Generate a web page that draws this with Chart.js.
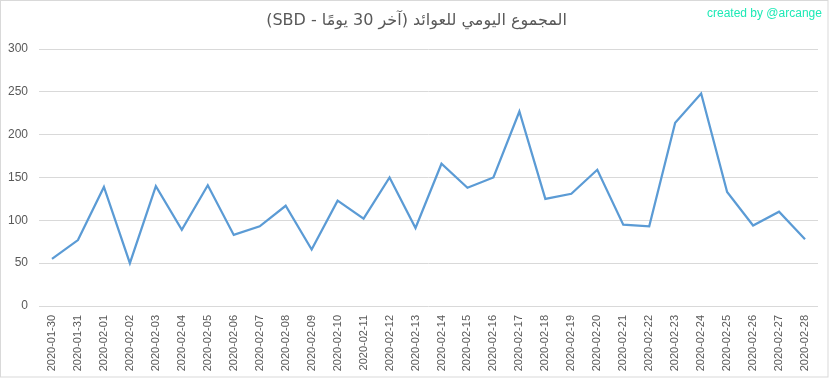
<!DOCTYPE html>
<html>
<head>
<meta charset="utf-8">
<script src="https://cdn.jsdelivr.net/npm/chart.js"></script>
<style>
  html, body { margin: 0; padding: 0; background: #fff; }
  #wrap { position: relative; width: 833px; height: 379px; }
  #credit {
    position: absolute; left: 707px; top: 6px;
    font: 12px "Liberation Sans", Arial, sans-serif; color: #1de9b6;
  }
  #title {
    position: absolute; left: 0; width: 833px; top: 10px; text-align: center;
    font: 16px "DejaVu Sans", sans-serif; color: #595959;
  }
</style>
</head>
<body>
<div id="wrap">
  <canvas id="myChart" width="833" height="379"></canvas>
  <div id="title" dir="rtl">المجموع اليومي للعوائد (آخر 30 يومًا - SBD)</div>
  <div id="credit">created by @arcange</div>
</div>
<script>
// dates shown on the x axis
const days = [
  '2020-01-30', '2020-01-31', '2020-02-01', '2020-02-02', '2020-02-03', '2020-02-04',
  '2020-02-05', '2020-02-06', '2020-02-07', '2020-02-08', '2020-02-09', '2020-02-10',
  '2020-02-11', '2020-02-12', '2020-02-13', '2020-02-14', '2020-02-15', '2020-02-16',
  '2020-02-17', '2020-02-18', '2020-02-19', '2020-02-20', '2020-02-21', '2020-02-22',
  '2020-02-23', '2020-02-24', '2020-02-25', '2020-02-26', '2020-02-27', '2020-02-28'
];

// daily rewards total (SBD)
const rewards = [
  55, 77, 139, 50, 140, 89, 141, 83, 93, 117, 66, 123, 102, 150, 91,
  166, 138, 150, 227, 125, 131, 159, 95, 93, 214, 248, 133, 94, 110, 78
];

const yTicks = [0, 50, 100, 150, 200, 250, 300];

// thin grey frame round the whole chart
const frame = {
  id: 'frame',
  afterDraw(chart) {
    const c = chart.ctx;
    c.save();
    c.strokeStyle = '#d9d9d9';
    c.lineWidth = 1;
    c.strokeRect(0.5, 0.5, 827.5, 376.5);
    c.restore();
  }
};

const ctx = document.getElementById('myChart').getContext('2d');
const myChart = new Chart(ctx, {
  type: 'line',
  data: {
    labels: days,
    datasets: [{
      data: rewards,
      borderColor: '#5b9bd5',
      borderWidth: 2.25,
      pointRadius: 0,
      tension: 0,
      fill: false
    }]
  },
  options: {
    responsive: false,
    animation: false,
    layout: { padding: { top: 49, right: 15, left: 0, bottom: 0 } },
    plugins: {
      legend: { display: false },
      tooltip: { enabled: false }
    },
    scales: {
      x: {
        offset: true,
        grid: { display: false, drawTicks: false },
        border: { display: false },
        ticks: {
          maxRotation: 90,
          minRotation: 90,
          autoSkip: false,
          padding: 9,
          color: '#595959',
          font: { family: 'Liberation Sans', size: 11 }
        },
        afterFit(scale) { scale.height = 73; }
      },
      y: {
        min: 0,
        max: 300,
        afterBuildTicks(scale) { scale.ticks = yTicks.map(v => ({ value: v })); },
        grid: { color: '#d9d9d9', drawTicks: false },
        border: { display: false },
        ticks: {
          padding: 11,
          color: '#595959',
          font: { family: 'Liberation Sans', size: 12 }
        },
        afterFit(scale) { scale.width = 39; }
      }
    }
  },
  plugins: [frame]
});
</script>
</body>
</html>
